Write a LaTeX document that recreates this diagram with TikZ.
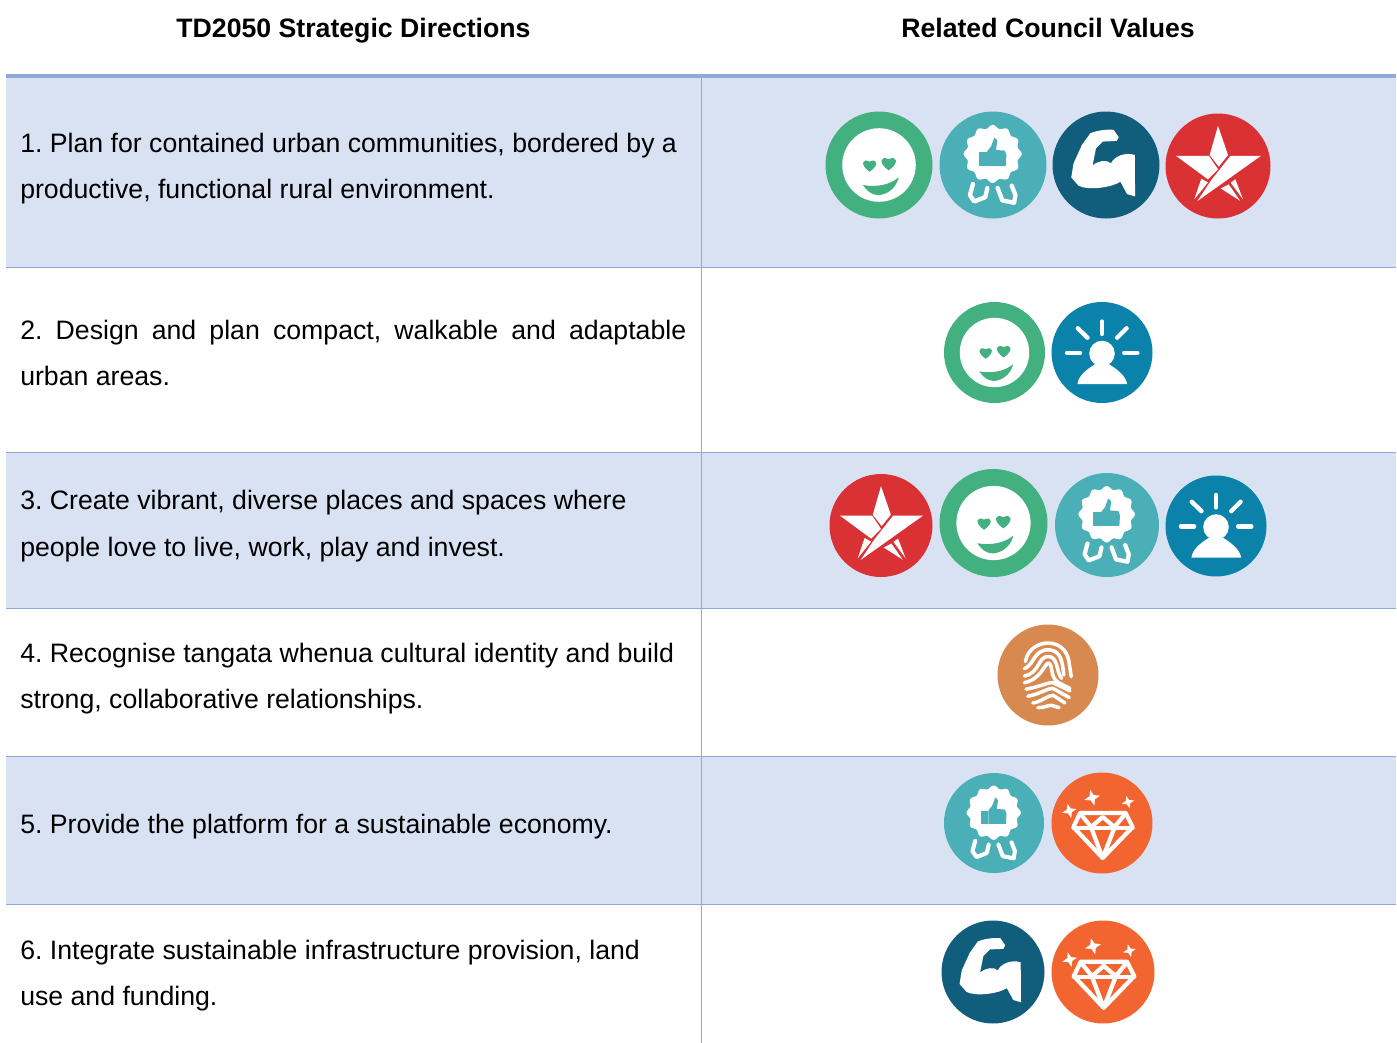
\documentclass[tikz,border=0pt]{standalone}
\usepackage{fontspec}
\setmainfont{Liberation Sans}
\definecolor{rowblue}{HTML}{D9E2F3}
\definecolor{rule}{HTML}{8EAADB}
\definecolor{cgreen}{HTML}{43B07F}
\definecolor{cteal}{HTML}{4BAFB8}
\definecolor{cnavy}{HTML}{115E7C}
\definecolor{cred}{HTML}{DA3135}
\definecolor{cblue}{HTML}{0A82AA}
\definecolor{ctan}{HTML}{D88950}
\definecolor{corange}{HTML}{F26531}
\tikzset{
  bodytext/.style={anchor=west,inner sep=0pt,align=left,font=\fontsize{20}{34.5}\selectfont\frenchspacing,text=black},
  headtext/.style={anchor=base,inner sep=0pt,font=\fontsize{20}{24}\selectfont\bfseries,text=black},
  rowline/.style={draw=rule,line width=0.75pt},
  ink/.style={draw=white,line join=round,line cap=round,fill=none},
}
% #1 cx, #2 cy, #3 r (px), #4 colour, #5 #6 #7 source centre and radius, #8 body
\newcommand\iconframe[8]{%
  \begin{scope}[shift={(#1,#2)},x=#3*0.75pt/#7,y=-#3*0.75pt/#7]
  \begin{scope}[shift={(-#5,-#6)}]
  \def\zu{#3*0.75/#7*1pt}%
  \fill[#4] (#5,#6) circle[radius=#7];
  #8
  \end{scope}\end{scope}}
\newcommand\heartmark[3]{\begin{scope}[shift={(#1,#2)},scale=#3]
  \fill[cgreen] (0,1) .. controls (-1.5,0) and (-1.1,-1.1) .. (0,-0.5) .. controls (1.1,-1.1) and (1.5,0) .. (0,1) -- cycle;
  \end{scope}}
\newcommand\sparkle[4]{\begin{scope}[shift={(#1,#2)},rotate=#4,scale=#3]
  \fill[white] (0,-1)--(.27,-.27)--(1,0)--(.27,.27)--(0,1)--(-.27,.27)--(-1,0)--(-.27,-.27)--cycle;
  \end{scope}}
\newcommand\smileicon[3]{\iconframe{#1}{#2}{#3}{cgreen}{178}{195}{160}{
  \fill[white] (178,195) circle[radius=110];
  \heartmark{150}{195}{20}
  \heartmark{207}{189}{22}
  \fill[cgreen] (130,255) .. controls (170,262) and (210,255) .. (237,232) .. controls (228,270) and (195,285) .. (175,285) .. controls (155,285) and (140,270) .. (130,255) -- cycle;
}}
\newcommand\badgeicon[3]{\iconframe{#1}{#2}{#3}{cteal}{518}{195}{160}{
  \begin{scope}[shift={(517,162)}]
  \fill[white] plot[domain=0:360,samples=97,smooth] (\x:{82+5*cos(12*\x)}) -- cycle;
  \end{scope}
  \fill[cteal] (476,155) rectangle (499,198);
  \fill[cteal] (500,155) -- (512,140) -- (522,113) -- (531,122) -- (527,150) -- (553,152) -- (558,165) -- (556,198) -- (500,198) -- cycle;
  \draw[ink,line width={13*\zu}] (458,252) -- (449,285) -- (462,304) -- (495,291) -- (501,264);
  \draw[ink,line width={13*\zu}] (532,264) -- (546,301) -- (581,308) -- (585,285) -- (574,257);
}}
\newcommand\muscleicon[3]{\iconframe{#1}{#2}{#3}{cnavy}{182}{195}{160}{
  \fill[white] (205,90) -- (220,112) -- (214,123) -- (172,125) -- (152,145) -- (142,196) .. controls (160,182) and (185,178) .. (197,190) .. controls (205,170) and (240,155) .. (268,165) -- (269,289) -- (245,282) -- (225,245) .. controls (200,262) and (130,272) .. (100,257) -- (78,232) -- (85,190) -- (110,135) -- (135,100) .. controls (160,90) and (190,88) .. (205,90) -- cycle;
}}
\newcommand\staricon[3]{\iconframe{#1}{#2}{#3}{cred}{520}{198}{157}{
  \fill[white] (520,78) -- (550,165) -- (522,200) -- (495,165) -- cycle;
  \fill[white] (395,168) -- (493,168) -- (520,208) -- (490,238) -- cycle;
  \fill[white] (648,168) -- (557,168) -- (500,240) -- (458,303) -- cycle;
  \fill[white] (470,236) -- (490,247) -- (449,298) -- cycle;
  \fill[white] (528,265) -- (552,253) -- (586,302) -- cycle;
  \fill[white] (572,238) -- (595,298) -- (558,248) -- cycle;
}}
\newcommand\personicon[3]{\iconframe{#1}{#2}{#3}{cblue}{170}{172}{150}{
  \fill[white] (170,175) circle[radius=38];
  \fill[white] (97,266) .. controls (100,240) and (125,222) .. (152,205) -- (188,205) .. controls (215,222) and (240,240) .. (245,266) -- cycle;
  \draw[ink,line width={13*\zu}] (170,80) -- (170,117);
  \draw[ink,line width={13*\zu}] (98,100) -- (127,128);
  \draw[ink,line width={13*\zu}] (243,100) -- (215,128);
  \draw[ink,line width={13*\zu}] (66,173) -- (105,173);
  \draw[ink,line width={13*\zu}] (236,173) -- (275,173);
}}
\newcommand\printicon[3]{\iconframe{#1}{#2}{#3}{ctan}{175}{165}{150}{
  \begin{scope}[ink,line width={10.5*\zu}]
  \draw (108,125) .. controls (115,85) and (150,70) .. (175,70) .. controls (215,70) and (235,100) .. (238,130) -- (244,170);
  \draw (105,146) .. controls (135,135) and (130,92) .. (175,90) .. controls (215,90) and (218,130) .. (222,165);
  \draw (105,168) .. controls (150,160) and (145,110) .. (175,110) .. controls (205,110) and (198,150) .. (215,175);
  \draw (105,188) .. controls (160,175) and (165,125) .. (178,130) .. controls (190,135) and (180,170) .. (205,187) -- (240,205);
  \draw (110,207) .. controls (150,200) and (180,185) .. (190,188) -- (240,212);
  \draw (115,228) .. controls (150,222) and (175,203) .. (190,205) -- (238,232);
  \draw (130,248) .. controls (155,245) and (175,225) .. (190,225) -- (225,248);
  \draw (145,262) .. controls (165,262) and (175,255) .. (185,255) -- (208,262);
  \end{scope}
}}
\newcommand\gemicon[3]{\iconframe{#1}{#2}{#3}{corange}{335}{608}{150}{
  \begin{scope}[ink,line width={12.5*\zu}]
  \draw (270,578) -- (405,578) -- (426,620) -- (337,712) -- (250,620) -- cycle;
  \draw (250,622) -- (426,622);
  \draw (270,580) -- (303,620) -- (337,590) -- (372,620) -- (405,580);
  \draw (303,622) -- (337,712) -- (372,622);
  \end{scope}
  \sparkle{306}{533}{24}{15}
  \sparkle{238}{572}{22}{15}
  \sparkle{412}{546}{19}{15}
}}
\begin{document}
\begin{tikzpicture}[x=0.75pt,y=-0.75pt]
\useasboundingbox (0,0) rectangle (1397,1043);
\fill[white] (0,0) rectangle (1397,1043);
\fill[rowblue] (6,77) rectangle (1396,267);
\fill[rowblue] (6,452) rectangle (1396,608);
\fill[rowblue] (6,756) rectangle (1396,904);
\fill[rule] (6,74) rectangle (1396,77.5);
\foreach \yy in {267.5,452.5,608.5,756.5,904.5}{\draw[rowline] (6,\yy) -- (1396,\yy);}
\draw[rowline] (701.5,77) -- (701.5,1043);

\node[headtext] (h1) at (353.5,37) {TD2050 Strategic Directions};
\node[headtext] (h2) at (1048,37) {Related Council Values};

\node[bodytext] (t1) at (20,169) {1. Plan for contained urban communities, bordered by a\\productive, functional rural environment.};
\node[bodytext] (t2) at (20,353) {\makebox[499.5pt][s]{2. Design and plan compact, walkable and adaptable}\\urban areas.};
\node[bodytext] (t3) at (20,526.5) {3. Create vibrant, diverse places and spaces where\\[0.75pt]people love to live, work, play and invest.};
\node[bodytext] (t4) at (20,679) {4. Recognise tangata whenua cultural identity and build\\strong, collaborative relationships.};
\node[bodytext] (t5) at (20,827) {5. Provide the platform for a sustainable economy.};
\node[bodytext] (t6) at (20,976) {6. Integrate sustainable infrastructure provision, land\\use and funding.};

\smileicon{879}{165}{53.5}
\badgeicon{993}{165}{53.5}
\muscleicon{1106}{165}{53.5}
\staricon{1218}{166}{52.5}

\smileicon{994.5}{352.5}{50.5}
\personicon{1102}{352.5}{50.5}

\staricon{881}{525.5}{51.5}
\smileicon{993.5}{523}{54}
\badgeicon{1107}{525}{52}
\personicon{1216}{526}{50.5}

\printicon{1048}{675}{50.5}

\badgeicon{994}{823}{50}
\gemicon{1102}{823}{50.5}

\muscleicon{993}{972}{51.5}
\gemicon{1103}{972}{51.5}
\end{tikzpicture}
\end{document}
